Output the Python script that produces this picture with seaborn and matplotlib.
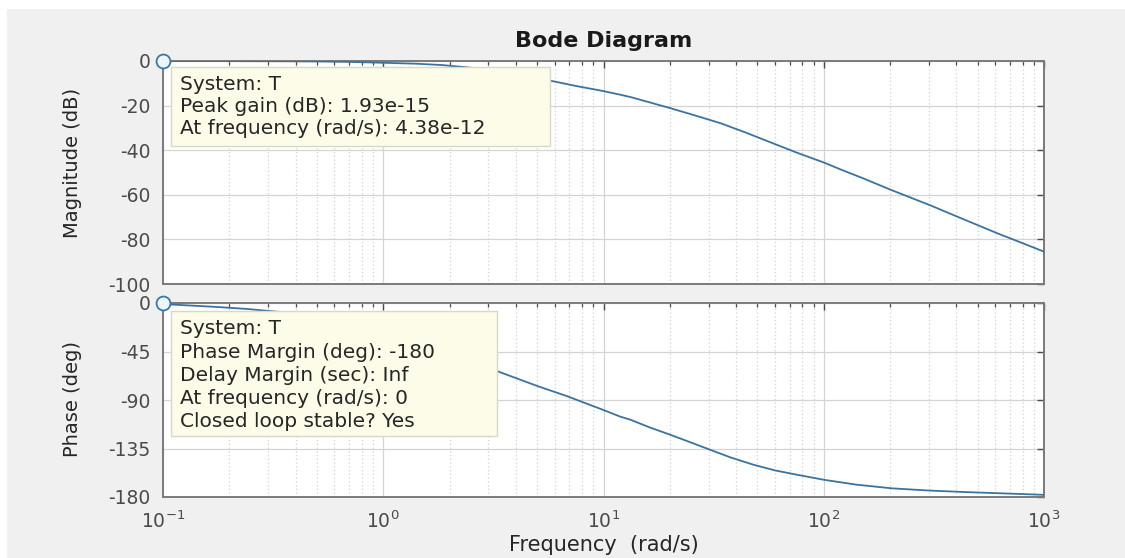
import matplotlib
matplotlib.use("Agg")
import matplotlib.pyplot as plt
import seaborn as sns
import pandas as pd
from matplotlib.patches import Rectangle
from matplotlib.ticker import FixedLocator, LogLocator, NullFormatter

# ---------------- data ----------------
mag_freq = [0.1, 0.2, 0.35, 0.5, 0.7, 1.0, 1.4, 1.84, 2.5, 3.2, 4.0, 5.0, 5.85,
            7.5, 10, 11.9, 13.3, 16, 20.2, 26, 34, 44, 57.4, 75, 100, 119, 150,
            202, 306, 420, 615, 800, 1000]
mag_db = [0.0, -0.05, -0.12, -0.2, -0.4, -0.8, -1.2, -1.8, -3.0, -4.4, -5.9, -7.7, -9.0,
          -11.2, -13.5, -15.1, -16.2, -18.4, -21.2, -24.4, -27.9, -32.0, -36.5, -41.0,
          -45.5, -48.6, -52.5, -57.8, -64.8, -70.5, -77.3, -81.7, -85.5]

phase_freq = [0.1, 0.17, 0.24, 0.5, 1.0, 2.0, 3.34, 5.0, 6.84, 10, 11.9, 13.3, 16,
              20.2, 25, 30.6, 38, 48.2, 60, 75.8, 100, 140, 205, 300, 450, 731, 1000]
phase_deg = [-1.0, -3.5, -5.5, -11.5, -22.0, -42.0, -63.7, -77.0, -86.5, -99.3, -105.4,
             -108.4, -115.0, -122.4, -129.5, -136.3, -143.5, -150.2, -155.3, -159.4,
             -164.0, -168.5, -172.0, -174.0, -175.5, -177.0, -178.0]

mag_ticks = [0, -20, -40, -60, -80, -100]
phase_ticks = [0, -45, -90, -135, -180]
freq_ticks = [0.1, 1, 10, 100, 1000]
freq_tick_labels = [r"$10^{-1}$", r"$10^{0}$", r"$10^{1}$", r"$10^{2}$", r"$10^{3}$"]

title_text = "Bode Diagram"
mag_label = "Magnitude (dB)"
phase_label = "Phase (deg)"
freq_label = "Frequency  (rad/s)"
mag_tip_lines = ["System: T", "Peak gain (dB): 1.93e-15", "At frequency (rad/s): 4.38e-12"]
phase_tip_lines = ["System: T", "Phase Margin (deg): -180", "Delay Margin (sec): Inf",
                   "At frequency (rad/s): 0", "Closed loop stable? Yes"]

mag_df = pd.DataFrame({"freq": mag_freq, "mag": mag_db})
phase_df = pd.DataFrame({"freq": phase_freq, "phase": phase_deg})

# ---------------- style ----------------
sns.set_theme(style="white")
plt.rcParams["font.family"] = ["DejaVu Sans"]
plt.rcParams["mathtext.default"] = "regular"

W, H = 1125, 558
fig = plt.figure(figsize=(W / 100, H / 100), dpi=100, facecolor="white")
fig.patches.append(Rectangle((7 / W, 0), 1 - 7 / W, 1 - 9 / H, transform=fig.transFigure,
                             facecolor="#f0f0f0", edgecolor="none", zorder=-10))

L, R = 163, 1044
ax1 = fig.add_axes([L / W, 1 - 284 / H, (R - L) / W, (284 - 61) / H])
ax2 = fig.add_axes([L / W, 1 - 497 / H, (R - L) / W, (497 - 303) / H])

line_color = "#3a73a0"
tick_color = "#4a4a4a"
spine_color = "#7a7a7a"

sns.lineplot(data=mag_df, x="freq", y="mag", ax=ax1, color=line_color, lw=1.3, zorder=3)
sns.lineplot(data=phase_df, x="freq", y="phase", ax=ax2, color=line_color, lw=1.3, zorder=3)

for ax, ticks, lim in ((ax1, mag_ticks, (-100, 0)), (ax2, phase_ticks, (-180, 0))):
    ax.set_facecolor("white")
    ax.set_xscale("log")
    ax.set_xlim(freq_ticks[0], freq_ticks[-1])
    ax.set_ylim(*lim)
    ax.yaxis.set_major_locator(FixedLocator(ticks))
    ax.set_yticklabels([str(t) for t in ticks])
    ax.xaxis.set_major_locator(FixedLocator(freq_ticks))
    ax.xaxis.set_minor_locator(LogLocator(base=10, subs=range(2, 10), numticks=20))
    ax.xaxis.set_minor_formatter(NullFormatter())
    ax.grid(which="major", color="#d4d4d4", lw=0.9, ls="-")
    ax.grid(which="minor", axis="x", color="#d0d0d0", lw=0.9, ls=(0, (1, 2)))
    ax.set_axisbelow(True)
    ax.tick_params(which="both", direction="in", top=True, right=True, color=tick_color,
                   labelcolor=tick_color, labelsize=13.5, pad=9)
    ax.tick_params(which="major", length=5, width=1.0)
    ax.tick_params(which="minor", length=3, width=0.9)
    for s in ax.spines.values():
        s.set_color(spine_color)
        s.set_linewidth(1.4)
    ax.set_xlabel("")
    ax.set_ylabel("")

ax1.set_xticklabels([])
ax2.set_xticklabels(freq_tick_labels)
ax2.tick_params(axis="x", pad=10)

ax1.set_ylabel(mag_label, fontsize=14, color="#262626")
ax1.yaxis.set_label_coords((82 - L) / (R - L), (284 - 163) / (284 - 61))
ax2.set_ylabel(phase_label, fontsize=14, color="#262626")
ax2.yaxis.set_label_coords((82 - L) / (R - L), (497 - 399) / (497 - 303))
ax2.set_xlabel(freq_label, fontsize=15, color="#262626")
ax2.xaxis.set_label_coords(0.5, -(535 - 497) / (497 - 303))
ax1.set_title(title_text, fontsize=16, fontweight="bold", color="#1a1a1a", pad=10)

# data-tip markers
for ax, fx, fy in ((ax1, mag_freq[0], mag_db[0]), (ax2, phase_freq[0], 0)):
    ax.plot([fx], [fy], marker="o", ms=10, mfc="#eef6fb", mec="#3a78a8", mew=1.3,
            clip_on=False, zorder=8, ls="none")


def px_box(x0, y0, x1, y1, **kw):
    fig.patches.append(Rectangle((x0 / W, 1 - y1 / H), (x1 - x0) / W, (y1 - y0) / H,
                                 transform=fig.transFigure, **kw))


tip_kw = dict(facecolor="#fcfce8", edgecolor="#d8d8c8", lw=1.0, zorder=5)
px_box(171, 67, 550, 146, **tip_kw)
px_box(171, 311, 497, 436, **tip_kw)

for i, s in enumerate(mag_tip_lines):
    fig.text(180 / W, 1 - (85 + 22 * i) / H, s, ha="left", va="center", fontsize=14.5,
             color="#262626", zorder=6)
for i, s in enumerate(phase_tip_lines):
    fig.text(180 / W, 1 - (329 + 23.2 * i) / H, s, ha="left", va="center", fontsize=14.5,
             color="#262626", zorder=6)

fig.savefig("out.png", dpi=100, facecolor=fig.get_facecolor())
